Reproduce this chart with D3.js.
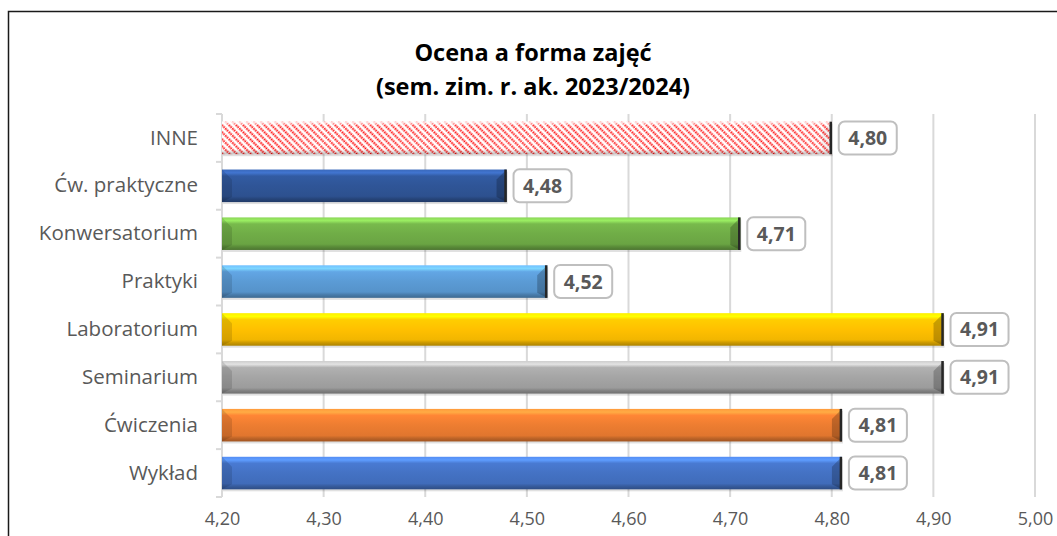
<!DOCTYPE html>
<html>
<head>
<meta charset="utf-8">
<script src="https://cdn.jsdelivr.net/npm/d3@7"></script>
<style>
    body { margin: 0; background: #fff; }
    #chart { width: 1057px; height: 536px; }
</style>
</head>
<body>
<div id="chart"></div>
<script>
//Dane
const categories = ['INNE', 'Ćw. praktyczne', 'Konwersatorium', 'Praktyki', 'Laboratorium', 'Seminarium', 'Ćwiczenia', 'Wykład'];
const values = [4.80, 4.48, 4.71, 4.52, 4.91, 4.91, 4.81, 4.81];
const barColors = ['pattern', '#2F5597', '#70AD47', '#5B9BD5', '#FFC000', '#A5A5A5', '#ED7D31', '#4472C4'];
const ticks = [4.20, 4.30, 4.40, 4.50, 4.60, 4.70, 4.80, 4.90, 5.00];
const titleLines = ['Ocena a forma zajęć', '(sem. zim. r. ak. 2023/2024)'];

const TEXT_GREY = '#595959',
GRID_GREY = '#D9D9D9',
FONT = '"Open Sans", "Noto Sans", sans-serif';

let W = 1057, H = 536;
let margin = {top: 114, right: 22, bottom: 39, left: 222};

let svg = d3.select('#chart')
    .append('svg')
      .attr('width', W)
      .attr('height', H);

let defs = svg.append('defs');

//Ramka wykresu
svg.append('rect')
    .attr('x', 8.5).attr('y', 11.5)
    .attr('width', W + 20).attr('height', H + 20)
    .attr('fill', '#fff')
    .attr('stroke', '#1a1a1a')
    .attr('stroke-width', 1.5);

//Tytuł
svg.append('g')
    .selectAll('text')
    .data(titleLines)
    .enter()
    .append('text')
      .attr('x', 533)
      .attr('y', function(d, i) { return 61 + i * 34; })
      .attr('text-anchor', 'middle')
      .style('font-family', FONT)
      .style('font-weight', 'bold')
      .style('font-size', '23.5px')
      .attr('fill', '#000')
      .text(function(d) { return d; });

//Skale
let x = d3.scaleLinear()
    .domain([4.2, 5.0])
    .range([margin.left, W - margin.right]);

let y = d3.scaleBand()
    .domain(categories)
    .range([margin.top, H - margin.bottom])
    .paddingInner(0.32)
    .paddingOuter(0.16);

let fmt = function(v) { return d3.format('.2f')(v).replace('.', ','); };

//Siatka
svg.append('g')
    .selectAll('line')
    .data(ticks.slice(1))
    .enter()
    .append('line')
      .attr('x1', function(d) { return x(d); })
      .attr('x2', function(d) { return x(d); })
      .attr('y1', margin.top)
      .attr('y2', H - margin.bottom)
      .attr('stroke', GRID_GREY)
      .attr('stroke-width', 2);

//Oś X
let xAxis = svg.append('g')
    .attr('transform', 'translate(0,' + (H - margin.bottom) + ')')
    .call(d3.axisBottom(x).tickValues(ticks).tickFormat(fmt).tickSize(0).tickPadding(15));
xAxis.select('.domain').remove();
xAxis.selectAll('text')
    .attr('fill', TEXT_GREY)
    .style('font-family', FONT)
    .style('font-size', '18px');

//Oś Y
let yAxis = svg.append('g')
    .attr('transform', 'translate(' + margin.left + ',0)')
    .call(d3.axisLeft(y).tickSize(0).tickPadding(24));
yAxis.select('.domain').remove();
yAxis.selectAll('text')
    .attr('fill', TEXT_GREY)
    .style('font-family', FONT)
    .style('font-size', '20.5px');

let step = y.step();
let bounds = d3.range(categories.length + 1).map(function(i) { return margin.top + i * step; });
svg.append('line')
    .attr('x1', margin.left).attr('x2', margin.left)
    .attr('y1', margin.top).attr('y2', H - margin.bottom)
    .attr('stroke', GRID_GREY).attr('stroke-width', 2);
svg.append('g')
    .selectAll('line')
    .data(bounds)
    .enter()
    .append('line')
      .attr('x1', margin.left - 6).attr('x2', margin.left)
      .attr('y1', function(d) { return d; })
      .attr('y2', function(d) { return d; })
      .attr('stroke', GRID_GREY).attr('stroke-width', 2);

//Gradienty 3D
barColors.forEach(function(c, i) {
    let g = defs.append('linearGradient')
        .attr('id', 'grad' + i)
        .attr('x1', 0).attr('y1', 0).attr('x2', 0).attr('y2', 1);
    let base = c === 'pattern' ? d3.rgb(255, 255, 255, 0) : d3.rgb(c);
    let stops = c === 'pattern'
        ? [[0, 'rgba(255,255,255,0.9)'], [0.12, 'rgba(255,255,255,0)'], [0.85, 'rgba(0,0,0,0)'], [1, 'rgba(0,0,0,0.25)']]
        : [[0, base.brighter(0.6)], [0.1, base.brighter(0.9)], [0.2, base.brighter(0.2)], [0.5, base], [0.82, base.darker(0.15)], [0.9, base.darker(0.6)], [1, base.darker(1.1)]];
    stops.forEach(function(s) {
        g.append('stop').attr('offset', s[0]).attr('stop-color', s[1].toString());
    });
});

let pat = defs.append('pattern')
    .attr('id', 'hatch')
    .attr('patternUnits', 'userSpaceOnUse')
    .attr('width', 5).attr('height', 5)
    .attr('patternTransform', 'rotate(45)');
pat.append('rect').attr('width', 5).attr('height', 5).attr('fill', '#fff');
pat.append('line')
    .attr('x1', 0).attr('x2', 5).attr('y1', 1.5).attr('y2', 1.5)
    .attr('stroke', '#FF0000')
    .attr('stroke-width', 1.8)
    .attr('stroke-dasharray', '1.6,0.9');

//Słupki
let bh = y.bandwidth();
let bev = 10;
let bars = svg.append('g')
    .selectAll('g')
    .data(categories)
    .enter()
    .append('g');

//cień
bars.append('rect')
    .attr('x', x(4.2) + 1)
    .attr('y', function(d) { return y(d) + 2; })
    .attr('width', function(d, i) { return x(values[i]) - x(4.2); })
    .attr('height', bh)
    .attr('fill', '#000')
    .attr('opacity', 0.12);

bars.filter(function(d, i) { return barColors[i] === 'pattern'; })
    .append('rect')
    .attr('x', x(4.2))
    .attr('y', function(d) { return y(d); })
    .attr('width', function(d, i) { return x(values[i]) - x(4.2); })
    .attr('height', bh)
    .attr('fill', 'url(#hatch)');

bars.append('rect')
    .attr('x', x(4.2))
    .attr('y', function(d) { return y(d); })
    .attr('width', function(d, i) { return x(values[i]) - x(4.2); })
    .attr('height', bh)
    .attr('fill', function(d, i) { return 'url(#grad' + i + ')'; });

//lewy skos
bars.append('path')
    .attr('d', function(d) {
        let x0 = x(4.2), y0 = y(d), y1 = y0 + bh;
        return 'M' + x0 + ',' + y0 + 'L' + (x0 + bev) + ',' + (y0 + bev) + 'L' + (x0 + bev) + ',' + (y1 - 5) + 'L' + x0 + ',' + y1 + 'Z';
    })
    .attr('fill', '#000')
    .attr('opacity', function(d, i) { return barColors[i] === 'pattern' ? 0 : 0.12; });

//prawy skos
bars.append('path')
    .attr('d', function(d, i) {
        let x1 = x(values[i]), y0 = y(d), y1 = y0 + bh;
        return 'M' + x1 + ',' + y0 + 'L' + (x1 - bev) + ',' + (y0 + bev) + 'L' + (x1 - bev) + ',' + (y1 - 5) + 'L' + x1 + ',' + y1 + 'Z';
    })
    .attr('fill', '#000')
    .attr('opacity', function(d, i) { return barColors[i] === 'pattern' ? 0.05 : 0.22; });

bars.append('line')
    .attr('x1', function(d, i) { return x(values[i]) - 1; })
    .attr('x2', function(d, i) { return x(values[i]) - 1; })
    .attr('y1', function(d) { return y(d); })
    .attr('y2', function(d) { return y(d) + bh; })
    .attr('stroke', '#262626')
    .attr('stroke-width', 2.5);

//Etykiety wartości
let lw = 58, lh = 33;
let labels = svg.append('g')
    .selectAll('g')
    .data(categories)
    .enter()
    .append('g')
      .attr('transform', function(d, i) { return 'translate(' + (x(values[i]) + 7) + ',' + (y(d) + bh / 2) + ')'; });

labels.append('rect')
    .attr('x', 0).attr('y', -lh / 2)
    .attr('width', lw).attr('height', lh)
    .attr('rx', 6)
    .attr('fill', '#fff')
    .attr('stroke', '#BFBFBF')
    .attr('stroke-width', 2);

labels.append('text')
    .attr('x', lw / 2)
    .attr('dy', '0.36em')
    .attr('text-anchor', 'middle')
    .attr('fill', TEXT_GREY)
    .style('font-family', FONT)
    .style('font-weight', 'bold')
    .style('font-size', '19.5px')
    .text(function(d, i) { return fmt(values[i]); });
</script>
</body>
</html>
